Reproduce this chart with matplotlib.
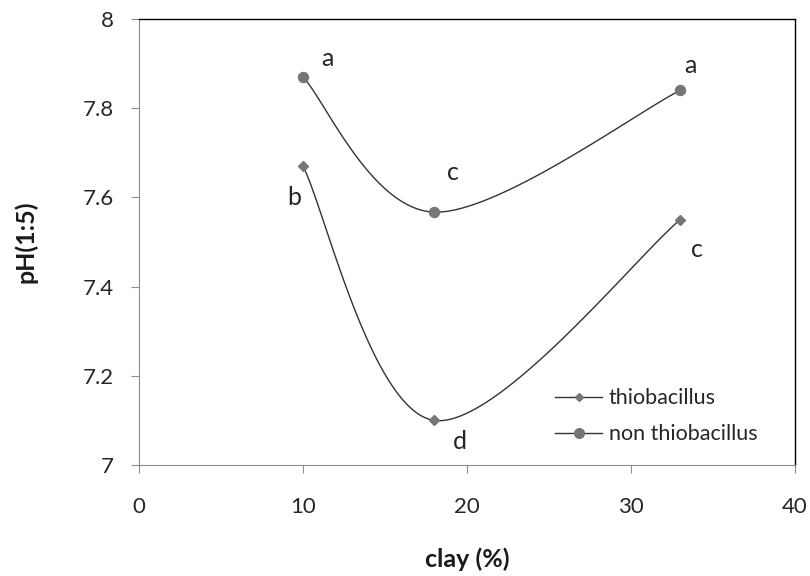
import numpy as np
import matplotlib
matplotlib.use("Agg")
import matplotlib.pyplot as plt
from matplotlib.lines import Line2D

clay = [10, 18, 33]
ph_thio = [7.67, 7.10, 7.55]
ph_non = [7.87, 7.567, 7.84]

letters_thio = ["b", "d", "c"]
letters_non = ["a", "c", "a"]
# where the significance letters sit, in data units
thio_label_xy = [(9.45, 7.60), (19.57, 7.052), (34.02, 7.484)]
non_label_xy = [(11.52, 7.911), (19.15, 7.656), (33.6, 7.895)]


def smooth(xs, ys, n=60):
    # Excel-style smoothed line: cubic Bezier through the points
    p = np.column_stack([xs, ys]).astype(float)
    pts = np.vstack([p[0], p, p[-1]])
    out = []
    t = np.linspace(0, 1, n)[:, None]
    for i in range(1, len(pts) - 2):
        p0, p1, p2, p3 = pts[i - 1], pts[i], pts[i + 1], pts[i + 2]
        c1 = p1 + (p2 - p0) / 6
        c2 = p2 - (p3 - p1) / 6
        seg = ((1 - t) ** 3) * p1 + 3 * ((1 - t) ** 2) * t * c1 \
            + 3 * (1 - t) * t ** 2 * c2 + t ** 3 * p2
        out.append(seg)
    seg = np.vstack(out)
    return seg[:, 0], seg[:, 1]


plt.rcParams["font.family"] = ["Lato", "DejaVu Sans"]

fig = plt.figure(figsize=(8.1, 5.76), dpi=100)
ax = fig.add_axes([0.1716, 0.1927, 0.8099, 0.7743])

line_c = "#333333"
mark_c = "#767676"
text_c = "#262626"

sx, sy = smooth(clay, ph_thio)
ax.plot(sx, sy, color=line_c, lw=1.0)
ax.plot(clay, ph_thio, linestyle="none", marker="D", ms=5,
        color=mark_c, mec=mark_c)

sx, sy = smooth(clay, ph_non)
ax.plot(sx, sy, color=line_c, lw=1.0)
ax.plot(clay, ph_non, linestyle="none", marker="o", ms=7.2,
        color=mark_c, mec=mark_c)

for lab, (x, y) in zip(letters_thio, thio_label_xy):
    ax.text(x, y, lab, fontsize=18, color=text_c, ha="center", va="center")
for lab, (x, y) in zip(letters_non, non_label_xy):
    ax.text(x, y, lab, fontsize=18, color=text_c, ha="center", va="center")

ax.set_xlim(0, 40)
ax.set_ylim(7, 8)
ax.set_xticks([0, 10, 20, 30, 40])
ax.set_yticks([7, 7.2, 7.4, 7.6, 7.8, 8])
ax.set_yticklabels(["7", "7.2", "7.4", "7.6", "7.8", "8"])

for side in ["left", "bottom"]:
    ax.spines[side].set_color("#8c8c8c")
for side in ["top", "right"]:
    ax.spines[side].set_color("black")
    ax.spines[side].set_linewidth(1.0)

ax.tick_params(axis="both", direction="out", length=6, color="#8c8c8c",
               labelsize=16, labelcolor=text_c)
ax.tick_params(axis="x", pad=17)
ax.tick_params(axis="y", pad=12)

ax.set_xlabel("clay (%)", fontsize=18, fontweight="bold", color="#1a1a1a")
ax.set_ylabel("pH(1:5)", fontsize=18, fontweight="bold", color="#1a1a1a")
ax.xaxis.set_label_coords(0.5, -0.184)
ax.yaxis.set_label_coords(-0.154, 0.5)

handles = [
    Line2D([], [], color=line_c, lw=1.0, marker="D", ms=3.6,
           mfc=mark_c, mec=mark_c),
    Line2D([], [], color=line_c, lw=1.0, marker="o", ms=7,
           mfc=mark_c, mec=mark_c),
]
leg = ax.legend(handles, ["thiobacillus", "non thiobacillus"], frameon=False,
                fontsize=15.5, loc="upper left", bbox_to_anchor=(0.634, 0.172),
                borderpad=0, borderaxespad=0, handlelength=2.2,
                handletextpad=0.3, labelspacing=0.75)
for t in leg.get_texts():
    t.set_color(text_c)

fig.savefig("out.png", dpi=100)
